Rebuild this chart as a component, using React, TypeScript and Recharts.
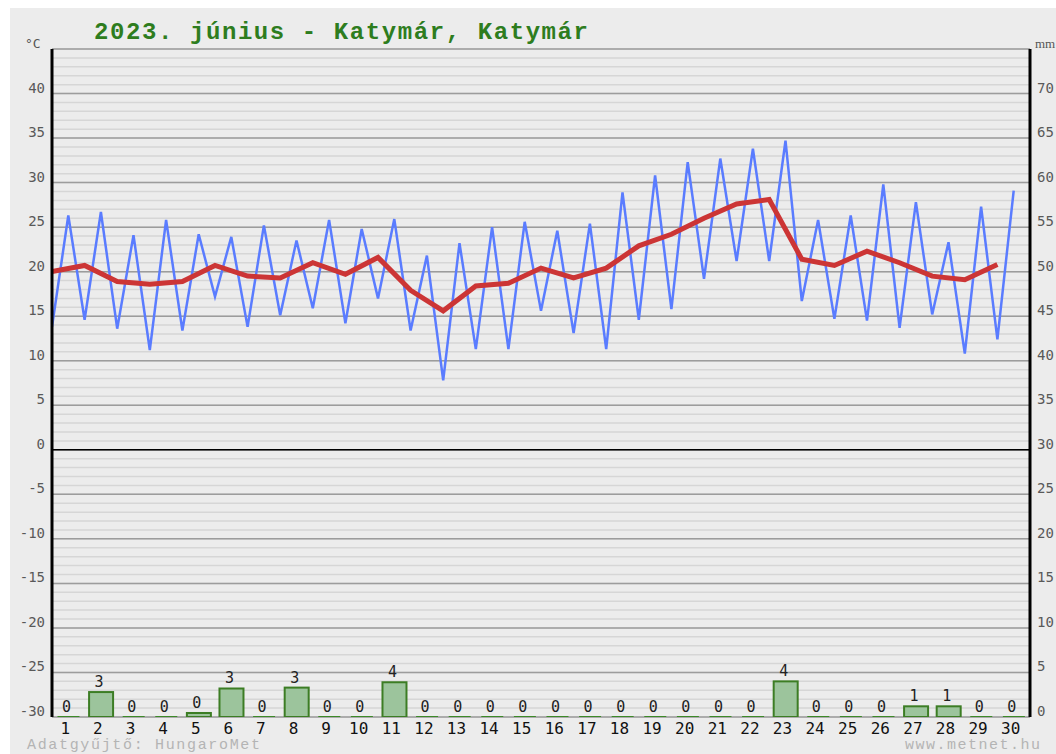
import React from 'react';
import { ComposedChart, Line, Bar, XAxis, YAxis, CartesianGrid, ReferenceLine, LabelList } from 'recharts';

const days = [1, 2, 3, 4, 5, 6, 7, 8, 9, 10, 11, 12, 13, 14, 15, 16, 17, 18, 19, 20, 21, 22, 23, 24, 25, 26, 27, 28, 29, 30];
const tMin = [13.8, 14.6, 13.6, 11.2, 13.4, 17.2, 13.8, 15.1, 15.9, 14.2, 17.0, 13.4, 7.8, 11.3, 11.3, 15.6, 13.1, 11.3, 14.6, 15.8, 19.2, 21.2, 21.2, 16.7, 14.7, 14.5, 13.7, 15.2, 10.8, 12.4];
const tMax = [26.3, 26.7, 24.1, 25.8, 24.2, 23.9, 25.2, 23.5, 25.8, 24.8, 25.9, 21.8, 23.2, 25.0, 25.6, 24.6, 25.4, 28.9, 30.8, 32.3, 32.7, 33.8, 34.7, 25.8, 26.3, 29.8, 27.8, 23.3, 27.3, 29.1];
const tMean = [20.0, 20.7, 18.9, 18.6, 18.9, 20.7, 19.5, 19.3, 21.0, 19.7, 21.6, 17.9, 15.6, 18.4, 18.7, 20.4, 19.3, 20.4, 22.9, 24.2, 26.0, 27.6, 28.1, 21.4, 20.7, 22.3, 21.0, 19.5, 19.1, 20.8];
const rain = [0, 2.8, 0, 0, 0.45, 3.2, 0, 3.3, 0, 0, 3.9, 0, 0, 0, 0, 0, 0, 0, 0, 0, 0, 0, 4.0, 0, 0, 0, 1.2, 1.2, 0, 0];

const leftTicks = [-30, -25, -20, -15, -10, -5, 0, 5, 10, 15, 20, 25, 30, 35, 40];
const rightTicks = [0, 5, 10, 15, 20, 25, 30, 35, 40, 45, 50, 55, 60, 65, 70];
const majorValues = [-30, -25, -20, -15, -10, -5, 0, 5, 10, 15, 20, 25, 30, 35, 40, 45];
const minorValues: number[] = [];
for (let v = -30; v <= 45; v += 1) minorValues.push(v);

const data: any[] = [];
days.forEach((d, i) => {
  data.push({ x: d - 1, temp: tMin[i], mean: tMean[i] });
  data.push({ x: d - 0.5, temp: tMax[i], rain: rain[i], day: d });
});
const xTicks = days.map((d) => d - 0.5);

const MONO = '"DejaVu Sans Mono", monospace';
const BAR_W = 24;

const LeftTick = (p: any) => (
  <text x={p.x} y={p.y - 1} textAnchor="end" fontFamily={MONO} fontSize={14} fill="#595959">
    {p.payload.value}
  </text>
);
const RightTick = (p: any) => (
  <text x={p.x} y={p.y - 1} textAnchor="start" fontFamily={MONO} fontSize={14} fill="#595959">
    {p.payload.value}
  </text>
);
const XTick = (p: any) => (
  <text x={p.x - 3} y={p.y + 17} textAnchor="middle" fontFamily={MONO} fontSize={16} fill="#111">
    {Math.round(p.payload.value + 0.5)}
  </text>
);

const RainBar = (p: any) => {
  if (!p.payload || p.payload.rain == null) return null;
  const { x, y, width, height } = p;
  const cx = x + width / 2;
  if (!height || height < 0.5) {
    const yy = y + (height || 0);
    return <line x1={cx - BAR_W / 2 + 1} x2={cx + BAR_W / 2 - 1} y1={yy} y2={yy} stroke="#3c8a28" strokeWidth={2} />;
  }
  return <rect x={cx - BAR_W / 2} y={y} width={BAR_W} height={height} fill="#9cc49c" stroke="#3c7d24" strokeWidth={2} />;
};

const RainLabel = (p: any) => {
  if (p.value == null) return null;
  return (
    <text x={p.x + p.width / 2 - 2} y={p.y - 5} textAnchor="middle" fontFamily={MONO} fontSize={15} fill="#222">
      {Math.round(p.value)}
    </text>
  );
};

export default function App() {
  return (
    <div style={{ position: 'absolute', left: 0, top: 0, width: 1056, height: 754, background: '#ffffff', overflow: 'hidden' }}>
      <div style={{ position: 'absolute', left: 10, top: 8, width: 1046, height: 746, background: '#ececec' }} />
      <div style={{ position: 'absolute', left: 0, top: 0 }}>
        <ComposedChart width={1056} height={754} data={data} margin={{ top: 49, right: 0, bottom: 0, left: 0 }}>
          <CartesianGrid yAxisId="left" horizontalValues={minorValues} vertical={false} stroke="#d6d6d6" strokeWidth={1.5} />
          <CartesianGrid yAxisId="left" horizontalValues={majorValues} vertical={false} stroke="#9c9c9c" strokeWidth={1.5} />
          <XAxis
            type="number"
            dataKey="x"
            domain={[0, 30]}
            ticks={xTicks}
            interval={0}
            height={37}
            axisLine={false}
            tickLine={false}
            tickSize={0}
            tickMargin={0}
            tick={XTick}
            allowDataOverflow
          />
          <YAxis
            yAxisId="left"
            domain={[-30, 45]}
            ticks={leftTicks}
            interval={0}
            width={52}
            axisLine={{ stroke: '#000', strokeWidth: 3 }}
            tickLine={false}
            tickSize={0}
            tickMargin={7}
            tick={LeftTick}
            allowDataOverflow
          />
          <YAxis
            yAxisId="right"
            orientation="right"
            domain={[0, 75]}
            ticks={rightTicks}
            interval={0}
            width={26}
            axisLine={{ stroke: '#000', strokeWidth: 3 }}
            tickLine={false}
            tickSize={0}
            tickMargin={7}
            tick={RightTick}
            allowDataOverflow
          />
          <ReferenceLine yAxisId="left" y={0} stroke="#000" strokeWidth={1.5} />
          <Bar yAxisId="right" dataKey="rain" barSize={24} shape={RainBar} isAnimationActive={false}>
            <LabelList dataKey="rain" content={RainLabel} />
          </Bar>
          <Line yAxisId="left" type="linear" dataKey="temp" stroke="#5a7cff" strokeWidth={2.5} dot={false} activeDot={false} connectNulls isAnimationActive={false} />
          <Line yAxisId="left" type="linear" dataKey="mean" stroke="#cc3535" strokeWidth={5} dot={false} activeDot={false} connectNulls isAnimationActive={false} />
        </ComposedChart>
      </div>
      <svg width={1056} height={754} style={{ position: 'absolute', left: 0, top: 0, pointerEvents: 'none' }}>
        <text x={94} y={39} fontFamily='"Liberation Mono", monospace' fontWeight="bold" fontSize={24} fill="#2e7d1e" textLength={494} lengthAdjust="spacing">
          2023. június - Katymár, Katymár
        </text>
        <text x={25} y={48} fontFamily={MONO} fontSize={13} fill="#555">°C</text>
        <text x={1035} y={48} fontFamily='"Liberation Serif", serif' fontSize={13} fill="#555">mm</text>
        <text x={27} y={749} fontFamily='"Liberation Mono", monospace' fontSize={15} fill="#b4b4b4" textLength={233} lengthAdjust="spacing">
          Adatgyűjtő: HungaroMet
        </text>
        <text x={905} y={749} fontFamily='"Liberation Mono", monospace' fontSize={15} fill="#b4b4b4" textLength={135} lengthAdjust="spacing">
          www.metnet.hu
        </text>
      </svg>
    </div>
  );
}
